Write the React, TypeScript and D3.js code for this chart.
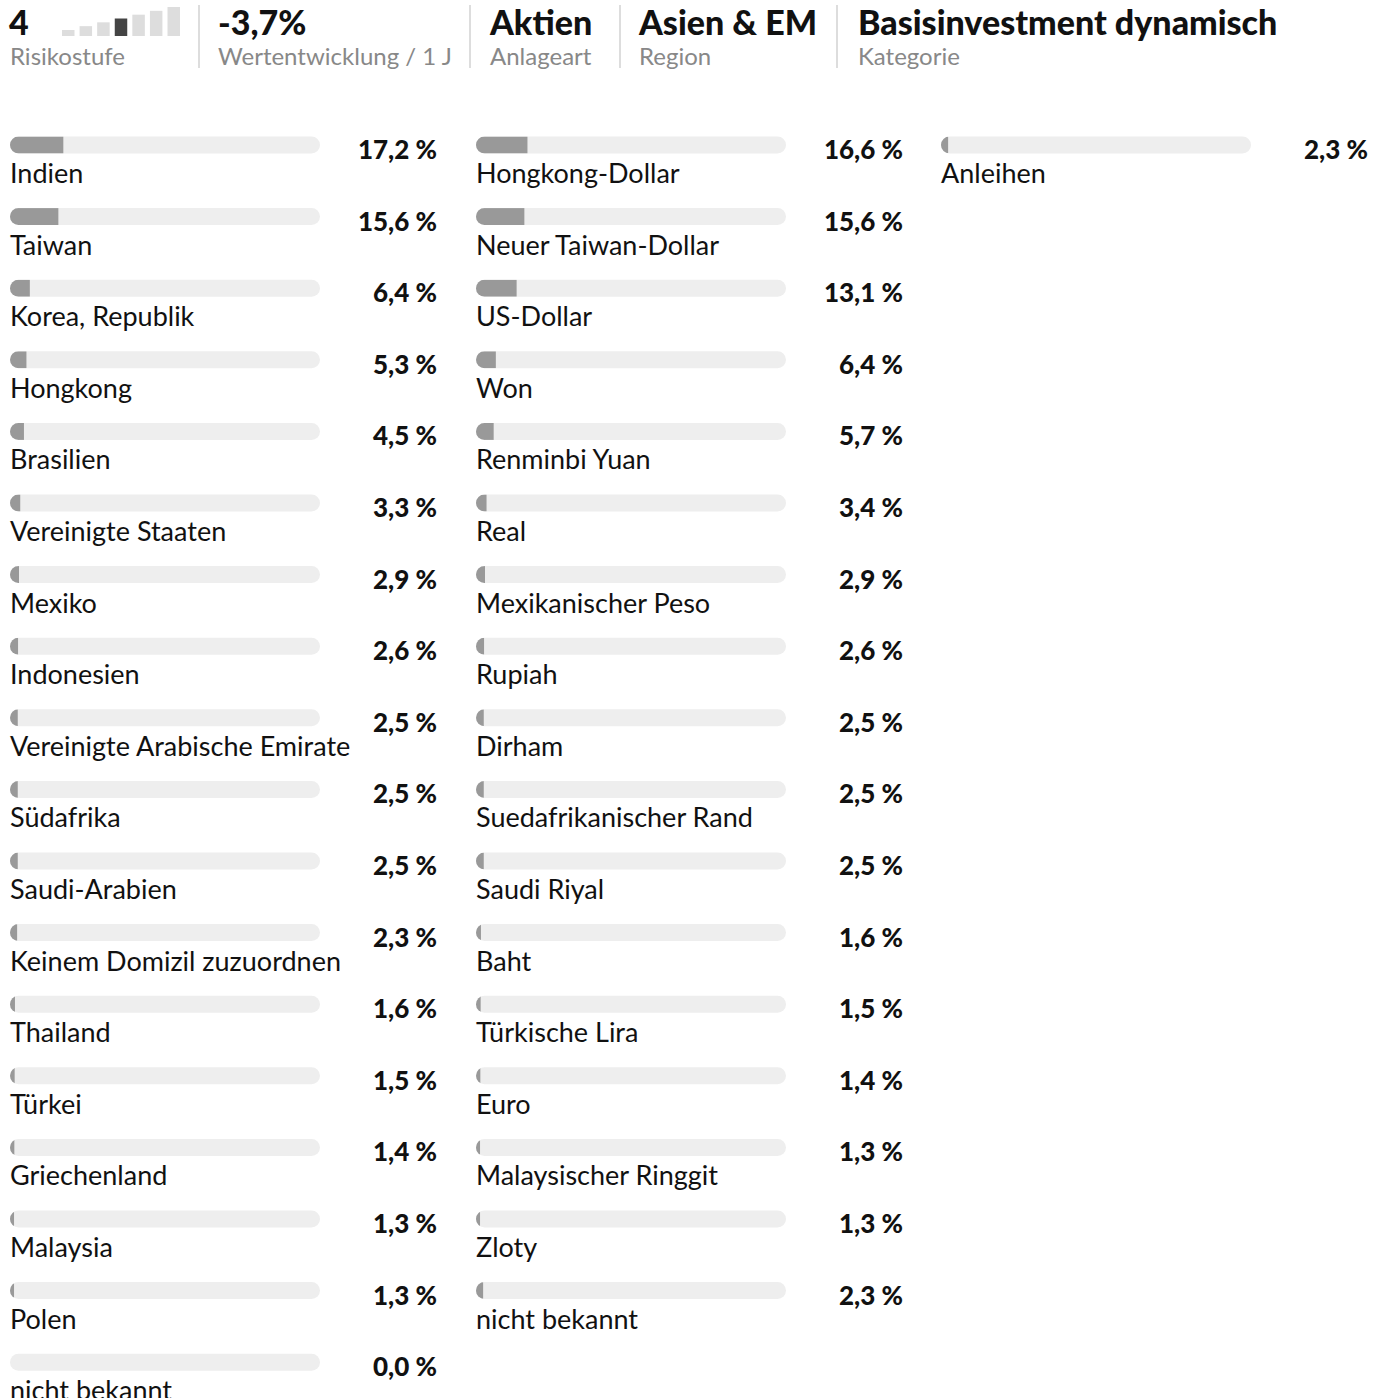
import React from "react";
import * as d3 from "d3";

const riskLevel = 4;
const riskSteps = [1, 2, 3, 4, 5, 6, 7];
const headerTitles = ["-3,7%", "Aktien", "Asien & EM", "Basisinvestment dynamisch"];
const headerSubtitles = ["Wertentwicklung / 1 J", "Anlageart", "Region", "Kategorie"];

const countries = [
  "Indien", "Taiwan", "Korea, Republik", "Hongkong", "Brasilien", "Vereinigte Staaten",
  "Mexiko", "Indonesien", "Vereinigte Arabische Emirate", "Südafrika", "Saudi-Arabien",
  "Keinem Domizil zuzuordnen", "Thailand", "Türkei", "Griechenland", "Malaysia", "Polen", "nicht bekannt",
];
const countryValues = [17.2, 15.6, 6.4, 5.3, 4.5, 3.3, 2.9, 2.6, 2.5, 2.5, 2.5, 2.3, 1.6, 1.5, 1.4, 1.3, 1.3, 0.0];

const currencies = [
  "Hongkong-Dollar", "Neuer Taiwan-Dollar", "US-Dollar", "Won", "Renminbi Yuan", "Real",
  "Mexikanischer Peso", "Rupiah", "Dirham", "Suedafrikanischer Rand", "Saudi Riyal", "Baht",
  "Türkische Lira", "Euro", "Malaysischer Ringgit", "Zloty", "nicht bekannt",
];
const currencyValues = [16.6, 15.6, 13.1, 6.4, 5.7, 3.4, 2.9, 2.6, 2.5, 2.5, 2.5, 1.6, 1.5, 1.4, 1.3, 1.3, 2.3];

const assetClasses = ["Anleihen"];
const assetValues = [2.3];

const FONT = "Lato, 'Noto Sans', sans-serif";

export default function App() {
  const width = 1384;
  const height = 1398;
  const colX = [10, 476, 941];
  const trackW = 310;
  const trackH = 17;
  const valueRight = 427;
  const firstY = 145;
  const pitch = 71.6;

  const x = d3.scaleLinear().domain([0, 100]).range([0, trackW]);
  const y = (i: number) => firstY + i * pitch;

  const columns = [
    { labels: countries, values: countryValues },
    { labels: currencies, values: currencyValues },
    { labels: assetClasses, values: assetValues },
  ];

  const riskX = d3.scaleBand<number>().domain(riskSteps).range([62, 180]).paddingInner(0.29).paddingOuter(0);
  const riskH = d3.scaleLinear().domain([1, 7]).range([6, 29]);

  const headerX = [218, 490, 639, 858];
  const dividers = [199, 470, 620, 837];
  const fmt = (v: number) => d3.format(".1f")(v).replace(".", ",") + " %";

  return (
    <svg width={width} height={height} style={{ position: "absolute", left: 0, top: 0 }} fontFamily={FONT}>
      <rect width={width} height={height} fill="#fff" />
      <defs>
        {columns.map((c, ci) =>
          c.labels.map((_, i) => (
            <clipPath id={`clip-${ci}-${i}`} key={`${ci}-${i}`}>
              <rect x={colX[ci]} y={y(i) - trackH / 2} width={trackW} height={trackH} rx={trackH / 2} />
            </clipPath>
          ))
        )}
      </defs>

      {/* header */}
      <text x={9} y={35} fontSize={34} fontWeight={900} fill="#111">{riskLevel}</text>
      {riskSteps.map((s) => (
        <rect key={s} x={riskX(s)} y={36 - riskH(s)} width={riskX.bandwidth()} height={riskH(s)}
          fill={s === riskLevel ? "#444" : "#ddd"} />
      ))}
      <text x={10} y={65} fontSize={24} fill="#888">Risikostufe</text>
      {dividers.map((d) => (
        <line key={d} x1={d} x2={d} y1={5} y2={68} stroke="#ddd" strokeWidth={2} />
      ))}
      {headerTitles.map((t, i) => (
        <g key={t}>
          <text x={headerX[i]} y={35} fontSize={34} fontWeight={900} fill="#111">{t}</text>
          <text x={headerX[i]} y={65} fontSize={24} fill="#888">{headerSubtitles[i]}</text>
        </g>
      ))}

      {/* bars */}
      {columns.map((c, ci) =>
        c.labels.map((label, i) => (
          <g key={`${ci}-${i}`}>
            <rect x={colX[ci]} y={y(i) - trackH / 2} width={trackW} height={trackH} rx={trackH / 2} fill="#eee" />
            <rect x={colX[ci]} y={y(i) - trackH / 2} width={x(c.values[i])} height={trackH} fill="#999"
              clipPath={`url(#clip-${ci}-${i})`} />
            <text x={colX[ci] + valueRight} y={y(i) + 14} fontSize={26} fontWeight={900} fill="#111" textAnchor="end">
              {fmt(c.values[i])}
            </text>
            <text x={colX[ci]} y={y(i) + 38} fontSize={27} fill="#111">{label}</text>
          </g>
        ))
      )}
    </svg>
  );
}
